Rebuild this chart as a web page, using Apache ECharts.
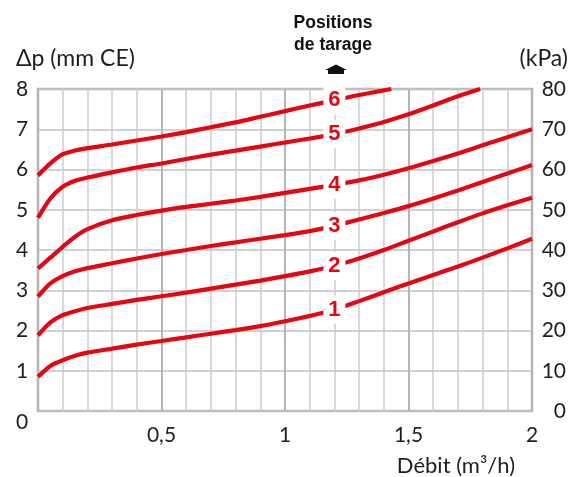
<!DOCTYPE html>
<html>
<head>
<meta charset="utf-8">
<script src="https://cdn.jsdelivr.net/npm/echarts@6/dist/echarts.min.js"></script>
<style>html,body{margin:0;padding:0;background:#fff}#c{width:569px;height:477px}</style>
</head>
<body>
<div id="c"></div>
<script>
// Débit (m3/h) sample points
const debit = [0,0.05,0.1,0.15,0.2,0.3,0.4,0.5,0.6,0.7,0.8,0.9,1.0,1.1,1.2,1.3,1.4,1.5,1.6,1.7,1.8,1.9,2.0];
const debitPos5 = [0,0.05,0.1,0.15,0.2,0.3,0.4,0.5,0.6,0.7,0.8,0.9,1.0,1.1,1.2,1.3,1.4,1.5,1.6,1.7,1.79];
const debitPos6 = [0,0.05,0.1,0.15,0.2,0.3,0.4,0.5,0.6,0.7,0.8,0.9,1.0,1.1,1.2,1.3,1.43];
// Δp (mm CE) per "position de tarage"
const pos1 = [0.85,1.12,1.26,1.37,1.45,1.55,1.65,1.74,1.83,1.92,2.01,2.11,2.23,2.36,2.52,2.73,2.95,3.17,3.38,3.59,3.81,4.04,4.28];
const pos2 = [1.88,2.20,2.38,2.48,2.56,2.66,2.76,2.85,2.94,3.04,3.14,3.24,3.35,3.47,3.61,3.79,4.00,4.23,4.46,4.69,4.91,5.11,5.30];
const pos3 = [2.84,3.17,3.35,3.47,3.55,3.67,3.79,3.90,4.00,4.10,4.19,4.28,4.37,4.47,4.60,4.76,4.92,5.09,5.28,5.48,5.69,5.90,6.11];
const pos4 = [3.54,3.81,4.08,4.33,4.52,4.74,4.87,4.98,5.07,5.15,5.23,5.32,5.42,5.52,5.62,5.73,5.87,6.03,6.21,6.40,6.60,6.80,7.00];
const pos5 = [4.80,5.28,5.57,5.72,5.80,5.93,6.05,6.15,6.26,6.37,6.47,6.57,6.67,6.77,6.88,7.02,7.18,7.37,7.59,7.82,8.00];
const pos6 = [5.85,6.15,6.38,6.47,6.53,6.62,6.72,6.82,6.93,7.05,7.17,7.31,7.45,7.59,7.72,7.85,8.00];
const curveLabels = ['1','2','3','4','5','6'];
const labelDebit = 1.2;
const yTicksLeft = [0,1,2,3,4,5,6,7,8];
const yTicksRight = [0,10,20,30,40,50,60,70,80];
const xTicks = ['0','0,5','1','1,5','2'];

const curves = [
  [debit,pos1],[debit,pos2],[debit,pos3],[debit,pos4],[debitPos5,pos5],[debitPos6,pos6]
];
const RED = '#e30613';
const FONT = 'Lato, "Open Sans", sans-serif';
const TXT = '#1e1e1e';
const BOLD = '"Liberation Sans", Arial, sans-serif';

const series = curves.map(function(c, i){
  return {
    type:'line', name:curveLabels[i], smooth:0.25, showSymbol:false, symbol:'none',
    data:c[0].map(function(x,k){return [x,c[1][k]];}),
    lineStyle:{color:RED,width:4.2}, z:3, silent:true
  };
});
const labelData = curves.map(function(c,i){
  const k = c[0].indexOf(labelDebit);
  return {value:[labelDebit, c[1][k]], name:curveLabels[i]};
});
series.push({
  type:'scatter', data:labelData, symbol:'rect', symbolSize:[22,28],
  itemStyle:{color:'#fff',opacity:1}, z:5, silent:true,
  label:{show:true, position:'inside', formatter:function(p){return p.name;},
    color:RED, opacity:1, fontSize:22, fontWeight:'bold', fontFamily:BOLD, textBorderWidth:0}
});

const chart = echarts.init(document.getElementById('c'), null, {renderer:'canvas'});
chart.setOption({
  animation:false,
  grid:{left:38,right:36,top:89,bottom:66,show:true,borderColor:'#b3b3b3',borderWidth:2.5,backgroundColor:'transparent'},
  xAxis:{type:'value',min:0,max:2,interval:0.5,
    axisLine:{show:false},axisTick:{show:false},
    splitLine:{show:true,lineStyle:{color:'#b5b5b5',width:2}},
    minorTick:{show:false,splitNumber:5},
    minorSplitLine:{show:true,lineStyle:{color:'#cdcdcd',width:1.5}},
    axisLabel:{margin:14,fontSize:21,color:TXT,fontFamily:FONT,
      formatter:function(v){const i=Math.round(v/0.5);return i===0?'':xTicks[i];}}
  },
  yAxis:[
    {type:'value',min:0,max:8,interval:1,
      axisLine:{show:false},axisTick:{show:false},
      splitLine:{show:true,lineStyle:{color:'#c3c3c3',width:1.5}},
      axisLabel:{margin:16,align:'center',fontSize:21,color:TXT,fontFamily:FONT,
        formatter:function(v){const t=String(yTicksLeft[Math.round(v)]);return v===0?'{z|'+t+'}':t;},
        rich:{z:{fontSize:21,color:TXT,fontFamily:FONT,padding:[22,0,0,0]}}}
    },
    {type:'value',min:0,max:80,interval:10,position:'right',
      axisLine:{show:false},axisTick:{show:false},splitLine:{show:false},
      axisLabel:{margin:34,align:'right',fontSize:21,color:TXT,fontFamily:FONT,
        formatter:function(v){return String(yTicksRight[Math.round(v/10)]);}}
    }
  ],
  graphic:[
    {type:'text',left:16,top:47,style:{text:'Δp (mm CE)',fontSize:23,fill:TXT,fontFamily:FONT}},
    {type:'text',right:1,top:47,style:{text:'(kPa)',fontSize:23,fill:TXT,fontFamily:FONT}},
    {type:'text',x:333,y:23,style:{text:'Positions',fontSize:17.5,fontWeight:'bold',fill:'#111',align:'center',verticalAlign:'middle',fontFamily:BOLD}},
    {type:'text',x:333,y:45,style:{text:'de tarage',fontSize:17.5,fontWeight:'bold',fill:'#111',align:'center',verticalAlign:'middle',fontFamily:BOLD}},
    {type:'polygon',shape:{points:[[325,70],[336,64.5],[347,70],[344,70],[344,74],[328,74],[328,70]]},style:{fill:'#111'}},
    {type:'text',x:515,y:466,style:{text:'Débit (m³/h)',fontSize:22,fill:TXT,align:'right',verticalAlign:'middle',fontFamily:FONT}}
  ],
  series:series
});
</script>
</body>
</html>
